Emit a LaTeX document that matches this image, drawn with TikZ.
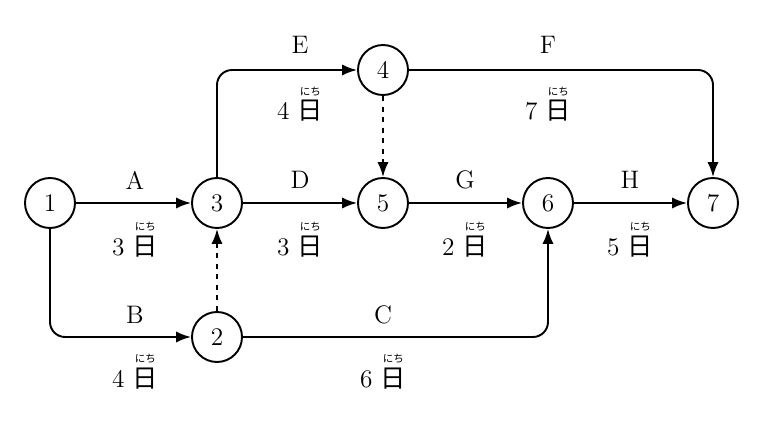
\documentclass[tikz,border=0pt]{standalone}
\usepackage{fontspec}
\newfontfamily\cjk{Noto Sans CJK JP}
\usetikzlibrary{arrows.meta}
\newcommand{\nichi}{\begin{tabular}[b]{@{}c@{}}{\cjk\fontsize{6}{6}\selectfont にち}\\[-4pt]{\cjk 日}\end{tabular}}

\begin{document}
\begin{tikzpicture}[font=\Large,
		ev/.style={draw, circle, line width=1.1pt, minimum size=1cm, inner sep=0pt},
		act/.style={line width=1.1pt, -{Latex[length=3mm]}, rounded corners=3mm},
		dum/.style={act, dashed},
		dur/.style={anchor=base}]
			\useasboundingbox (0, 0) rectangle (15.4, -8.6);
			\node[ev] (e1) at (1.0, -4.06) {1};
			\node[ev] (e3) at (4.34, -4.06) {3};
			\node[ev] (e5) at (7.66, -4.06) {5};
			\node[ev] (e6) at (10.96, -4.06) {6};
			\node[ev] (e7) at (14.26, -4.06) {7};
			\node[ev] (e4) at (7.66, -1.4) {4};
			\node[ev] (e2) at (4.34, -6.74) {2};
			% activities
			\draw[act] (e1) -- (e3);
			\draw[act] (e3) -- (e5);
			\draw[act] (e5) -- (e6);
			\draw[act] (e6) -- (e7);
			\draw[act] (e3.north) |- (e4.west);
			\draw[act] (e4.east) -| (e7.north);
			\draw[act] (e1.south) |- (e2.west);
			\draw[act] (e2.east) -| (e6.south);
			\draw[dum] (e4) -- (e5);
			\draw[dum] (e2) -- (e3);
			% labels
			\node (lA) at (2.7, -3.6) {A};
			\node[dur] (dA) at (2.7, -5.1) {3 \nichi};
			\node (lD) at (6.0, -3.6) {D};
			\node[dur] (dD) at (6.0, -5.1) {3 \nichi};
			\node (lG) at (9.3, -3.6) {G};
			\node[dur] (dG) at (9.3, -5.1) {2 \nichi};
			\node (lH) at (12.6, -3.6) {H};
			\node[dur] (dH) at (12.6, -5.1) {5 \nichi};
			\node (lE) at (6.0, -0.9) {E};
			\node[dur] (dE) at (6.0, -2.4) {4 \nichi};
			\node (lF) at (10.96, -0.9) {F};
			\node[dur] (dF) at (10.96, -2.4) {7 \nichi};
			\node (lB) at (2.7, -6.3) {B};
			\node[dur] (dB) at (2.7, -7.74) {4 \nichi};
			\node (lC) at (7.66, -6.3) {C};
			\node[dur] (dC) at (7.66, -7.74) {6 \nichi};
		\end{tikzpicture}
\end{document}
